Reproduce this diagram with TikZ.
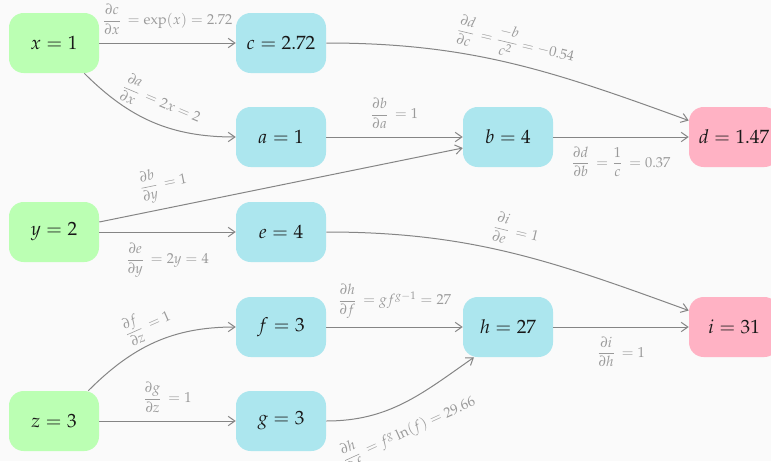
\documentclass[tikz,border=0pt]{standalone}
\usepackage{amsmath}
\usepackage{mathpazo}
\usetikzlibrary{arrows.meta}
\definecolor{bg}{HTML}{FAFAFA}
\definecolor{ingreen}{HTML}{BBFFB3}
\definecolor{midblue}{HTML}{ACE6EE}
\definecolor{outpink}{HTML}{FFB2C4}
\definecolor{edgegray}{HTML}{858585}
\definecolor{labgray}{HTML}{9A9A9A}
\begin{document}
\begin{tikzpicture}[x=0.75pt,y=0.75pt,
  box/.style={rounded corners=11pt, minimum width=67.5pt, minimum height=45pt, inner sep=0pt, font=\Large, text=black!90},
  inbox/.style={box, fill=ingreen},
  midbox/.style={box, fill=midblue},
  outbox/.style={box, fill=outpink},
  edge/.style={draw=edgegray, line width=0.75pt, -{Straight Barb[length=5pt,width=7pt]}},
  lab/.style={text=labgray, font=\fontsize{10.8}{13}\selectfont, inner sep=1pt}
]
\useasboundingbox (0,0) rectangle (771,-461);
\fill[bg] (0,0) rectangle (771,-461);
\clip (0,0) rectangle (771,-461);

\node[inbox] (x) at (54,-43) {$x = 1$};
\node[midbox] (c) at (281,-43) {$c = 2.72$};
\node[midbox] (a) at (281,-137) {$a = 1$};
\node[midbox] (b) at (508,-137) {$b = 4$};
\node[outbox] (d) at (734,-137) {$d = 1.47$};
\node[inbox] (y) at (54,-232) {$y = 2$};
\node[midbox] (e) at (281,-232) {$e = 4$};
\node[midbox] (f) at (281,-327) {$f = 3$};
\node[midbox] (h) at (508,-327) {$h = 27$};
\node[outbox] (i) at (734,-327) {$i = 31$};
\node[inbox] (z) at (54,-421) {$z = 3$};
\node[midbox] (g) at (281,-421) {$g = 3$};

\draw[edge] (x) -- node[lab, above=5pt] {$\dfrac{\partial c}{\partial x}\,= \exp(x) = 2.72$} (c);
\draw[edge] (x) to[out=-45,in=180] node[lab, sloped, above=4pt, pos=0.5] {$\dfrac{\partial a}{\partial x}\,= 2x = 2$} (a);
\draw[edge] (c) to[out=0,in=160] node[lab, sloped, above=3pt, pos=0.5] {$\dfrac{\partial d}{\partial c}\,= \dfrac{-b}{c^2} = -0.54$} (d);
\draw[edge] (a) -- node[lab, above=5pt] {$\dfrac{\partial b}{\partial a}\,= 1$} (b);
\draw[edge] (b) -- node[lab, below=6pt] {$\dfrac{\partial d}{\partial b}\,= \dfrac{1}{c}\,= 0.37$} (d);
\draw[edge] ([yshift=7.5pt]y.east) -- node[lab, sloped, above=4pt, pos=0.19] {$\dfrac{\partial b}{\partial y}\,= 1$} ([yshift=-8.25pt]b.west);
\draw[edge] (y) -- node[lab, below=7pt] {$\dfrac{\partial e}{\partial y}\,= 2y = 4$} (e);
\draw[edge] (e) to[out=0,in=160] node[lab, sloped, above=4pt, pos=0.5] {$\dfrac{\partial i}{\partial e}\,= 1$} (i);
\draw[edge] ([xshift=-8.25pt]z.north east) to[out=45,in=180] node[lab, sloped, above=2pt, pos=0.5] {$\dfrac{\partial f}{\partial z}\,= 1$} (f);
\draw[edge] (z) -- node[lab, above=5pt] {$\dfrac{\partial g}{\partial z}\,= 1$} (g);
\draw[edge] (f) -- node[lab, above=5pt] {$\dfrac{\partial h}{\partial f}\,= g f^{g-1} = 27$} (h);
\draw[edge] (g) to[out=0,in=-145] node[lab, sloped, below=7pt, pos=0.45] {$\dfrac{\partial h}{\partial f}\,= f^{g}\ln(f) = 29.66$} ([xshift=-25.5pt]h.south);
\draw[edge] (h) -- node[lab, below=6pt] {$\dfrac{\partial i}{\partial h}\,= 1$} (i);
\end{tikzpicture}
\end{document}
